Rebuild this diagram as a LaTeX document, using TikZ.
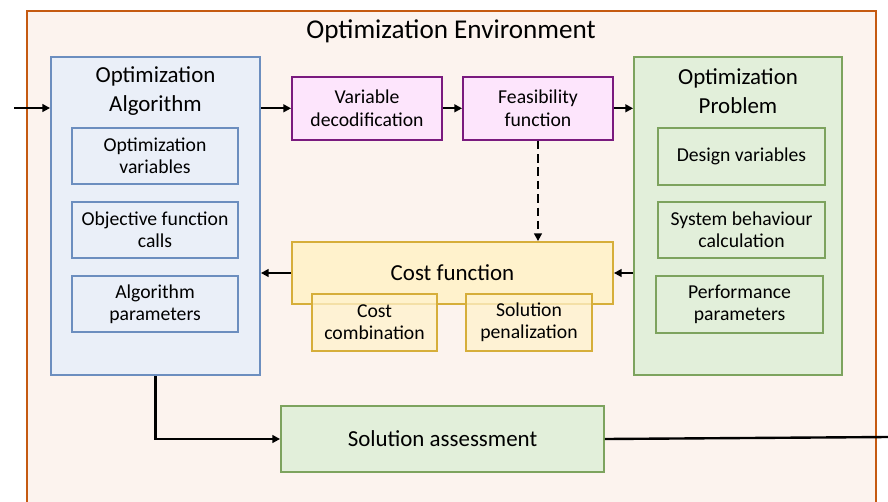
\documentclass[tikz,border=0pt]{standalone}
\usepackage{fontspec}
\setmainfont{Carlito}
\usetikzlibrary{arrows.meta}
\definecolor{envline}{HTML}{C55A11}
\definecolor{envfill}{HTML}{FCF3EE}
\definecolor{algline}{HTML}{6C8EBF}
\definecolor{algfill}{HTML}{EAEFF8}
\definecolor{decline}{HTML}{7A1A7E}
\definecolor{decfill}{HTML}{FDE5FC}
\definecolor{costline}{HTML}{D6AE3A}
\definecolor{costfill}{HTML}{FFF2CC}
\definecolor{probline}{HTML}{7DA35E}
\definecolor{probfill}{HTML}{E2EFDA}
\newcommand{\px}{0.025cm}

\begin{document}
\begin{tikzpicture}[x=0.025cm,y=-0.025cm,
	box/.style={draw,rectangle,line width=1.3pt,inner sep=0pt,align=center},
	small/.style={font=\fontsize{14}{15.8}\selectfont},
	big/.style={font=\fontsize{16.3}{20.5}\selectfont},
	algbox/.style={box,draw=algline,fill=algfill},
	decbox/.style={box,draw=decline,fill=decfill,small},
	costbox/.style={box,draw=costline,fill=costfill},
	probbox/.style={box,draw=probline,fill=probfill},
	link/.style={line width=1.7pt,-{Triangle[length=5.5pt,width=5.5pt]}}]
\clip (0,0) rectangle (888,501);
\fill[white] (0,0) rectangle (888,501);
% environnement
\draw[envline,fill=envfill,line width=1.3pt] (27,11) rectangle (876,540);
\node (envtitle) at (451,31) {\fontsize{19.3}{23}\selectfont Optimization Environment};
% algorithme
\node[algbox,minimum width=209*\px,minimum height=318*\px] (alg) at (155.5,216) {};
\node[big,align=center] (algtitle) at (155.5,91) {Optimization\\Algorithm};
\node[algbox,small,minimum width=166*\px,minimum height=56*\px] (optvar) at (155,156) {Optimization\\variables};
\node[algbox,small,minimum width=166*\px,minimum height=56*\px] (objcall) at (155,230) {Objective function\\calls};
\node[algbox,small,minimum width=166*\px,minimum height=56*\px] (algpar) at (155,304) {Algorithm\\parameters};
% probleme
\node[probbox,minimum width=208*\px,minimum height=318*\px] (prob) at (738,216) {};
\node[big,align=center] (probtitle) at (738,91) {Optimization\\Problem};
\node[probbox,small,minimum width=167*\px,minimum height=57*\px] (desvar) at (741.5,156.5) {Design variables};
\node[probbox,small,minimum width=167*\px,minimum height=56*\px] (sysbeh) at (741.5,230) {System behaviour\\calculation};
\node[probbox,small,minimum width=167*\px,minimum height=57*\px] (perfpar) at (739.5,304.5) {Performance\\parameters};
% decodage et faisabilite
\node[decbox,minimum width=150*\px,minimum height=63*\px] (vardec) at (367,108.3) {Variable\\decodification};
\node[decbox,minimum width=150*\px,minimum height=63*\px] (feas) at (538,108.3) {Feasibility\\function};
% cout
\node[costbox,big,minimum width=321*\px,minimum height=62*\px] (cost) at (452.5,273) {Cost function};
\node[costbox,small,fill opacity=0.75,text opacity=1,minimum width=125*\px,minimum height=57*\px] (costcomb) at (374.5,322.5) {Cost\\combination};
\node[costbox,small,fill opacity=0.75,text opacity=1,minimum width=126*\px,minimum height=57*\px] (solpen) at (529,322.5) {Solution\\penalization};
% solution
\node[probbox,big,minimum width=323*\px,minimum height=66*\px] (solass) at (442.5,439) {Solution assessment};
\coordinate (in) at (14,108);
\coordinate (out) at (888,437);
\draw[link] (in) -- (in -| alg.west);
\draw[link] (vardec.west -| alg.east) -- (vardec.west);
\draw[link] (vardec.east) -- (feas.west);
\draw[link] (feas.east) -- (feas.east -| prob.west);
\draw[link,dash pattern=on 6pt off 3.5pt] (feas.south) -- (feas.south |- cost.north);
\draw[link] (cost.east -| prob.west) -- (cost.east);
\draw[link] (cost.west) -- (cost.west -| alg.east);
\draw[link] (alg.south) |- (solass.west);
\draw[line width=1.7pt] (solass.east) -- (out);
\end{tikzpicture}
\end{document}
